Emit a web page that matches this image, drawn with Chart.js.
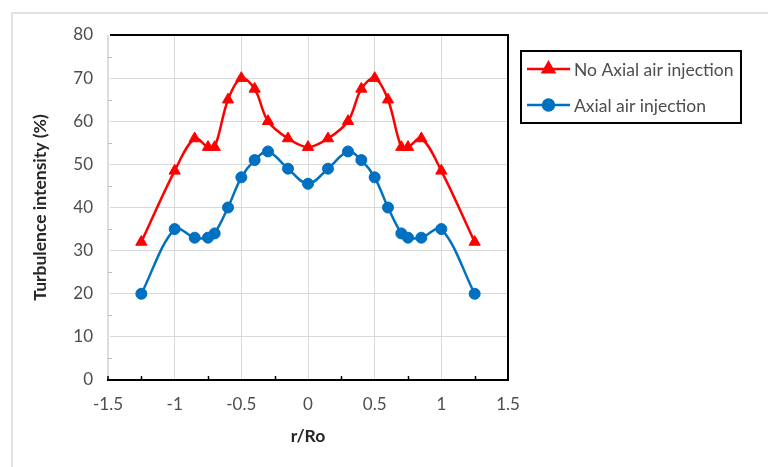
<!DOCTYPE html>
<html>
<head>
<meta charset="utf-8">
<script src="https://cdn.jsdelivr.net/npm/chart.js@4/dist/chart.umd.min.js"></script>
<style>
  html, body { margin: 0; padding: 0; background: #ffffff; }
  #wrap { width: 768px; height: 467px; }
</style>
</head>
<body>
<div id="wrap"><canvas id="chart" width="768" height="467"></canvas></div>
<script>
// Radial position r/Ro of each measuring station
const radialPosition = [-1.25, -1, -0.85, -0.75, -0.7, -0.6, -0.5, -0.4, -0.3, -0.15, 0,
                        0.15, 0.3, 0.4, 0.5, 0.6, 0.7, 0.75, 0.85, 1, 1.25];
// Turbulence intensity (%) without axial air injection
const noAxialInjection = [32, 48.5, 56, 54, 54, 65, 70, 67.5, 60, 56, 54,
                          56, 60, 67.5, 70, 65, 54, 54, 56, 48.5, 32];
// Turbulence intensity (%) with axial air injection
const axialInjection = [20, 35, 33, 33, 34, 40, 47, 51, 53, 49, 45.5,
                        49, 53, 51, 47, 40, 34, 33, 33, 35, 20];
const seriesNames = ['No Axial air injection', 'Axial air injection'];
const xTickValues = [-1.5, -1, -0.5, 0, 0.5, 1, 1.5];
const yTickValues = [0, 10, 20, 30, 40, 50, 60, 70, 80];
const xTitle = 'r/Ro';
const yTitle = 'Turbulence intensity (%)';

const FONT = 'Lato, "Liberation Sans", sans-serif';
const TEXT_GREY = '#4d4d4d';
const GRID_GREY = '#D9D9D9';

const toPoints = (xs, ys) => xs.map((x, i) => ({ x: x, y: ys[i] }));

// Frame, plot borders, minor ticks and the boxed legend
const decorations = {
  id: 'decorations',
  beforeDraw(chart) {
    const ctx = chart.ctx;
    ctx.save();
    ctx.fillStyle = '#ffffff';
    ctx.fillRect(0, 0, chart.width, chart.height);
    ctx.strokeStyle = '#D9D9D9';
    ctx.lineWidth = 1.5;
    ctx.beginPath();
    ctx.moveTo(12, chart.height);
    ctx.lineTo(12, 13);
    ctx.lineTo(chart.width, 13);
    ctx.stroke();
    ctx.restore();
  },
  afterDatasetsDraw(chart) {
    const ctx = chart.ctx;
    const { left, right, top, bottom } = chart.chartArea;
    const xs = chart.scales.x, ys = chart.scales.y;
    ctx.save();
    // left edge of the plot stays a light grey line
    ctx.fillStyle = '#ffffff';
    ctx.fillRect(left - 2, top, 4, bottom - top);
    ctx.strokeStyle = '#D0D0D0';
    ctx.lineWidth = 1.5;
    ctx.beginPath(); ctx.moveTo(left, top); ctx.lineTo(left, bottom); ctx.stroke();
    // minor ticks on the value axis
    ctx.strokeStyle = '#BFBFBF';
    ctx.lineWidth = 1;
    for (let v = 5; v < 80; v += 10) {
      const y = Math.round(ys.getPixelForValue(v)) + 0.5;
      ctx.beginPath(); ctx.moveTo(left, y); ctx.lineTo(left + 4, y); ctx.stroke();
    }
    // plot border: top, right, bottom in black
    ctx.strokeStyle = '#000000';
    ctx.lineWidth = 2;
    ctx.beginPath();
    ctx.moveTo(left + 2, top); ctx.lineTo(right, top); ctx.lineTo(right, bottom); ctx.lineTo(left - 1, bottom);
    ctx.stroke();
    ctx.lineWidth = 1.5;
    for (let v = -1.25; v <= 1.25; v += 0.5) {
      const x = Math.round(xs.getPixelForValue(v)) + 0.5;
      ctx.beginPath(); ctx.moveTo(x, bottom); ctx.lineTo(x, bottom - 4); ctx.stroke();
    }
    ctx.beginPath(); ctx.moveTo(left, bottom); ctx.lineTo(left, bottom - 4); ctx.stroke();

    // legend box
    ctx.lineWidth = 2;
    ctx.strokeRect(521, 51, 220, 72);
    const rows = [69, 105];
    chart.data.datasets.forEach((ds, i) => {
      const y = rows[i];
      ctx.strokeStyle = ds.borderColor;
      ctx.lineWidth = ds.borderWidth;
      ctx.beginPath(); ctx.moveTo(527, y); ctx.lineTo(570, y); ctx.stroke();
      ctx.fillStyle = ds.pointBackgroundColor;
      Chart.helpers.drawPoint(ctx, {
        pointStyle: ds.pointStyle, radius: ds.pointRadius, rotation: 0, borderWidth: 1
      }, 548.5, y);
      ctx.fillStyle = TEXT_GREY;
      ctx.font = '17.5px ' + FONT;
      ctx.textBaseline = 'middle';
      ctx.textAlign = 'left';
      ctx.fillText(ds.label, 574, y + 1);
    });
    ctx.restore();
  }
};

new Chart(document.getElementById('chart'), {
  type: 'scatter',
  data: {
    datasets: [
      {
        label: seriesNames[0],
        data: toPoints(radialPosition, noAxialInjection),
        showLine: true,
        tension: 0.35,
        borderColor: '#FF0000',
        backgroundColor: '#FF0000',
        pointBackgroundColor: '#FF0000',
        pointBorderColor: '#FF0000',
        borderWidth: 2.5,
        pointStyle: 'triangle',
        pointRadius: 6.5,
        pointBorderWidth: 1
      },
      {
        label: seriesNames[1],
        data: toPoints(radialPosition, axialInjection),
        showLine: true,
        tension: 0.35,
        borderColor: '#0070C0',
        backgroundColor: '#0070C0',
        pointBackgroundColor: '#0070C0',
        pointBorderColor: '#0070C0',
        borderWidth: 2.5,
        pointStyle: 'circle',
        pointRadius: 5.5,
        pointBorderWidth: 1
      }
    ]
  },
  options: {
    responsive: false,
    animation: false,
    devicePixelRatio: 1,
    layout: { padding: { left: 12, top: 35, right: 260, bottom: 0 } },
    plugins: { legend: { display: false }, tooltip: { enabled: false } },
    scales: {
      x: {
        type: 'linear',
        min: xTickValues[0],
        max: xTickValues[xTickValues.length - 1],
        afterBuildTicks(scale) { scale.ticks = xTickValues.map(v => ({ value: v })); },
        afterFit(scale) { scale.height = 87; },
        grid: { color: GRID_GREY, lineWidth: 1, drawTicks: false },
        border: { display: false },
        ticks: {
          autoSkip: false, maxRotation: 0, padding: 14,
          color: TEXT_GREY, font: { family: FONT, size: 17 },
          callback: v => String(v)
        },
        title: {
          display: true, text: xTitle, color: '#262626',
          font: { family: FONT, size: 17.5, weight: 'bold' },
          padding: { top: 0, bottom: 20 }
        }
      },
      y: {
        min: yTickValues[0],
        max: yTickValues[yTickValues.length - 1],
        afterBuildTicks(scale) { scale.ticks = yTickValues.map(v => ({ value: v })); },
        afterFit(scale) { scale.width = 96; },
        grid: { color: GRID_GREY, lineWidth: 1, drawTicks: false },
        border: { display: false },
        ticks: {
          padding: 15, color: TEXT_GREY, font: { family: FONT, size: 17 },
          callback: v => String(v)
        },
        title: {
          display: true, text: yTitle, color: '#262626',
          font: { family: FONT, size: 17.5, weight: 'bold' },
          padding: { top: 18, bottom: 0 }
        }
      }
    }
  },
  plugins: [decorations]
});
</script>
</body>
</html>
